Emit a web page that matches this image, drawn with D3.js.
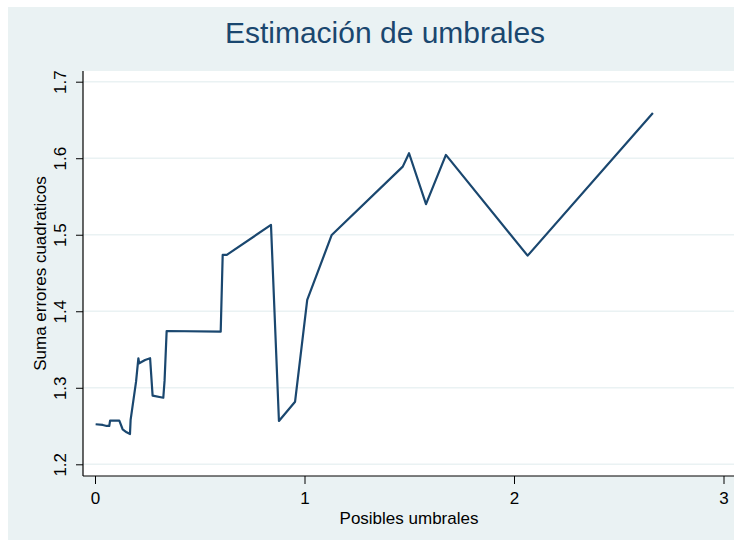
<!DOCTYPE html>
<html>
<head>
<meta charset="utf-8">
<script src="https://cdn.jsdelivr.net/npm/d3@7"></script>
<style>
  body { margin: 0; background: #ffffff; }
  text { font-family: "Liberation Sans", Arial, sans-serif; }
</style>
</head>
<body>
<div id="chart"></div>
<script>
// umbrales candidatos (eje x) y suma de errores cuadraticos (eje y)
const umbrales = [0.003, 0.037, 0.056, 0.068, 0.072, 0.116, 0.132, 0.151, 0.167, 0.170,
  0.196, 0.207, 0.211, 0.239, 0.263, 0.275, 0.326, 0.332, 0.342, 0.600,
  0.6095, 0.629, 0.840, 0.878, 0.955, 1.013, 1.130, 1.469, 1.499, 1.580,
  1.675, 2.065, 2.663];
const sce = [1.2523, 1.2514, 1.2501, 1.2501, 1.257, 1.257, 1.2458, 1.2418, 1.2396, 1.258,
  1.308, 1.3386, 1.332, 1.3363, 1.3386, 1.2897, 1.287, 1.309, 1.3742, 1.3733,
  1.4736, 1.4736, 1.5129, 1.2566, 1.2818, 1.4148, 1.4997, 1.589, 1.6065, 1.540,
  1.6043, 1.4727, 1.659];
const xTicks = [0, 1, 2, 3];
const yTicks = [1.2, 1.3, 1.4, 1.5, 1.6, 1.7];

const W = 742, H = 544;
const bg = "#eaf2f3", navy = "#1a476f";

const svg = d3.select("#chart").append("svg")
  .attr("width", W).attr("height", H);

svg.append("rect").attr("x", 8).attr("y", 7)
  .attr("width", W - 16).attr("height", H - 11)
  .attr("fill", bg);

// plot region
const plot = { left: 83, top: 71, right: 734, bottom: 476 };
svg.append("rect")
  .attr("x", plot.left).attr("y", plot.top)
  .attr("width", plot.right - plot.left).attr("height", plot.bottom - plot.top)
  .attr("fill", "#ffffff");

const x = d3.scaleLinear().domain([0, 3]).range([95, 723.5]);
const y = d3.scaleLinear().domain([1.2, 1.7]).range([464.3, 81.7]);

// gridlines
svg.append("g").selectAll("line").data(yTicks).enter().append("line")
  .attr("x1", plot.left).attr("x2", plot.right)
  .attr("y1", d => y(d)).attr("y2", d => y(d))
  .attr("stroke", bg).attr("stroke-width", 1.5);

// y axis
const yAxis = svg.append("g")
  .attr("transform", `translate(${plot.left},0)`)
  .call(d3.axisLeft(y).tickValues(yTicks).tickSize(7).tickPadding(10).tickSizeOuter(0)
    .tickFormat(d3.format(".1f")));
yAxis.select(".domain").remove();
yAxis.selectAll(".tick line").attr("stroke", "#000").attr("stroke-width", 1);
yAxis.selectAll(".tick text")
  .attr("font-size", 17).attr("fill", "#000")
  .attr("text-anchor", "middle")
  .attr("transform", "rotate(-90)")
  .attr("x", 0).attr("dy", 0)
  .attr("y", -17);
svg.append("line")
  .attr("x1", plot.left).attr("x2", plot.left)
  .attr("y1", plot.top).attr("y2", plot.bottom)
  .attr("stroke", "#000").attr("stroke-width", 1.2);

// x axis
const xAxis = svg.append("g")
  .attr("transform", `translate(0,${plot.bottom})`)
  .call(d3.axisBottom(x).tickValues(xTicks).tickSize(8).tickPadding(8).tickSizeOuter(0)
    .tickFormat(d3.format("d")));
xAxis.select(".domain").remove();
xAxis.selectAll(".tick line").attr("stroke", "#000").attr("stroke-width", 1);
xAxis.selectAll(".tick text").attr("font-size", 17).attr("fill", "#000");
svg.append("line")
  .attr("x1", plot.left).attr("x2", plot.right)
  .attr("y1", plot.bottom).attr("y2", plot.bottom)
  .attr("stroke", "#000").attr("stroke-width", 1.2);

// data line
const pts = umbrales.map((u, i) => [u, sce[i]]);
svg.append("path")
  .attr("d", d3.line().x(d => x(d[0])).y(d => y(d[1]))(pts))
  .attr("fill", "none").attr("stroke", navy)
  .attr("stroke-width", 2.2).attr("stroke-linejoin", "round");

// titles
svg.append("text").attr("x", 385).attr("y", 43)
  .attr("text-anchor", "middle").attr("font-size", 30).attr("fill", navy)
  .text("Estimación de umbrales");
svg.append("text").attr("x", 409).attr("y", 524)
  .attr("text-anchor", "middle").attr("font-size", 17).attr("fill", "#000")
  .text("Posibles umbrales");
svg.append("text")
  .attr("transform", `translate(46,${(plot.top + plot.bottom) / 2}) rotate(-90)`)
  .attr("text-anchor", "middle").attr("font-size", 17).attr("fill", "#000")
  .text("Suma errores cuadraticos");
</script>
</body>
</html>
